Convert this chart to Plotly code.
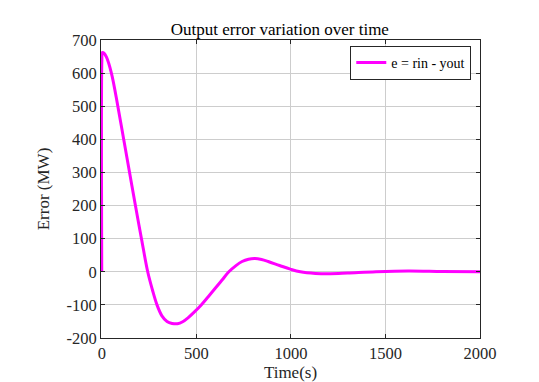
import plotly.graph_objects as go

# values
time_s = [0, 0.5, 3, 12, 25, 51, 85, 116, 147, 178, 210, 243, 268, 292, 318, 345,
          372, 400, 428, 456, 490, 526, 562, 600, 636, 672, 708, 742, 776, 810,
          845, 880, 940, 997, 1050, 1130, 1210, 1300, 1450, 1620, 1800, 2000]
error_mw = [0, 640, 662, 660, 648, 600, 500, 400, 300, 200, 100, 0, -55, -100, -133, -150,
            -156, -157, -151, -139, -121, -100, -76, -50, -25, 0, 18, 31, 38, 40,
            37, 31, 19, 8, 0, -5, -6, -4, 0, 2.5, 1, 0]

title_text = "Output error variation over time"
x_label = "Time(s)"
y_label = "Error (MW)"
legend_label = "e = rin - yout"
x_ticks = [0, 500, 1000, 1500, 2000]
y_ticks = [-200, -100, 0, 100, 200, 300, 400, 500, 600, 700]

FONT = "Liberation Serif, Times New Roman, serif"
INK = "#262626"

fig = go.Figure()
fig.add_trace(
    go.Scatter(
        x=time_s,
        y=error_mw,
        mode="lines",
        name=legend_label,
        line=dict(color="#ff00ff", width=3, shape="spline", smoothing=1),
    )
)

axis_common = dict(
    automargin=False,
    showline=True,
    linecolor=INK,
    linewidth=1,
    mirror="ticks",
    ticks="inside",
    ticklen=4,
    tickcolor=INK,
    showgrid=True,
    gridcolor="rgb(205,205,205)",
    gridwidth=1,
    zeroline=False,
    tickfont=dict(family=FONT, size=16.5, color=INK),
)

# tiny left pad so the jump at t=0 isn't half clipped by the plot edge
fig.update_xaxes(
    range=[-4, 2000],
    tickvals=x_ticks,
    ticktext=[str(v) for v in x_ticks],
    title=dict(text=x_label, font=dict(family=FONT, size=17, color=INK), standoff=0),
    **axis_common,
)
fig.update_yaxes(
    range=[-200, 700],
    tickvals=y_ticks,
    ticktext=[str(v) for v in y_ticks],
    title=dict(text=y_label, font=dict(family=FONT, size=17, color=INK), standoff=12),
    **axis_common,
)

# page body adds an 8px offset, so the figure is sized to fit the window
fig.update_layout(
    width=531,
    height=374,
    margin=dict(l=93, r=59, t=32, b=44, autoexpand=False),
    paper_bgcolor="white",
    plot_bgcolor="white",
    title=dict(
        text=title_text,
        x=0.512, xanchor="center",
        y=0.9425, yanchor="middle",
        font=dict(family=FONT, size=17, color="black"),
    ),
    showlegend=True,
    legend=dict(
        x=0.977, xanchor="right",
        y=0.98, yanchor="top",
        bgcolor="white",
        bordercolor=INK,
        borderwidth=1,
        font=dict(family=FONT, size=14, color="black"),
        itemwidth=30,
    ),
)

fig.write_html("out.html")
